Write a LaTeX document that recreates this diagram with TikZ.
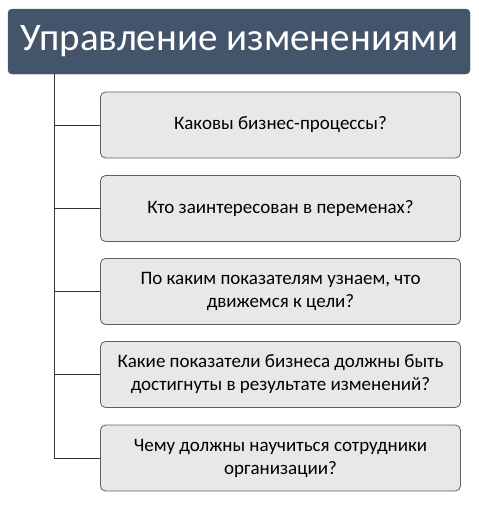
\documentclass[tikz,border=0pt]{standalone}
\usepackage{fontspec}
\setmainfont{Carlito}
\definecolor{titleblue}{HTML}{44546A}
\definecolor{boxgrey}{HTML}{E8E8E8}
\definecolor{edgegrey}{HTML}{5F5F5F}
\tikzset{
  titlebox/.style={draw=titleblue, fill=titleblue, rounded corners=4pt, text=white,
    minimum width=462pt, minimum height=65pt, font=\fontsize{39}{44}\selectfont, inner sep=0pt},
  itembox/.style={draw=edgegrey, fill=boxgrey, rounded corners=5pt, line width=0.8pt,
    minimum width=360pt, minimum height=66pt, align=center, inner sep=0pt,
    font=\fontsize{19}{23}\selectfont},
  link/.style={draw=black!80, line width=0.8pt}
}
\begin{document}
\begin{tikzpicture}[x=1pt, y=-1pt]
\useasboundingbox (0,0) rectangle (479,509);
\node[titlebox] (title) at (239, 41.5) {Управление изменениями};
\node[itembox] (q1) at (280.5, 125) {Каковы бизнес-процессы?};
\node[itembox] (q2) at (280.5, 208.5) {Кто заинтересован в переменах?};
\node[itembox] (q3) at (280.5, 291.5) {По каким показателям узнаем, что\\движемся к цели?};
\node[itembox] (q4) at (280.5, 374.5) {Какие показатели бизнеса должны быть\\достигнуты в результате изменений?};
\node[itembox] (q5) at (280.5, 458) {Чему должны научиться сотрудники\\организации?};
\coordinate (trunk) at (54, 74);
\draw[link] (trunk) |- (q5.west);
\draw[link] (trunk |- q1.west) -- (q1.west);
\draw[link] (trunk |- q2.west) -- (q2.west);
\draw[link] (trunk |- q3.west) -- (q3.west);
\draw[link] (trunk |- q4.west) -- (q4.west);
\end{tikzpicture}
\end{document}
